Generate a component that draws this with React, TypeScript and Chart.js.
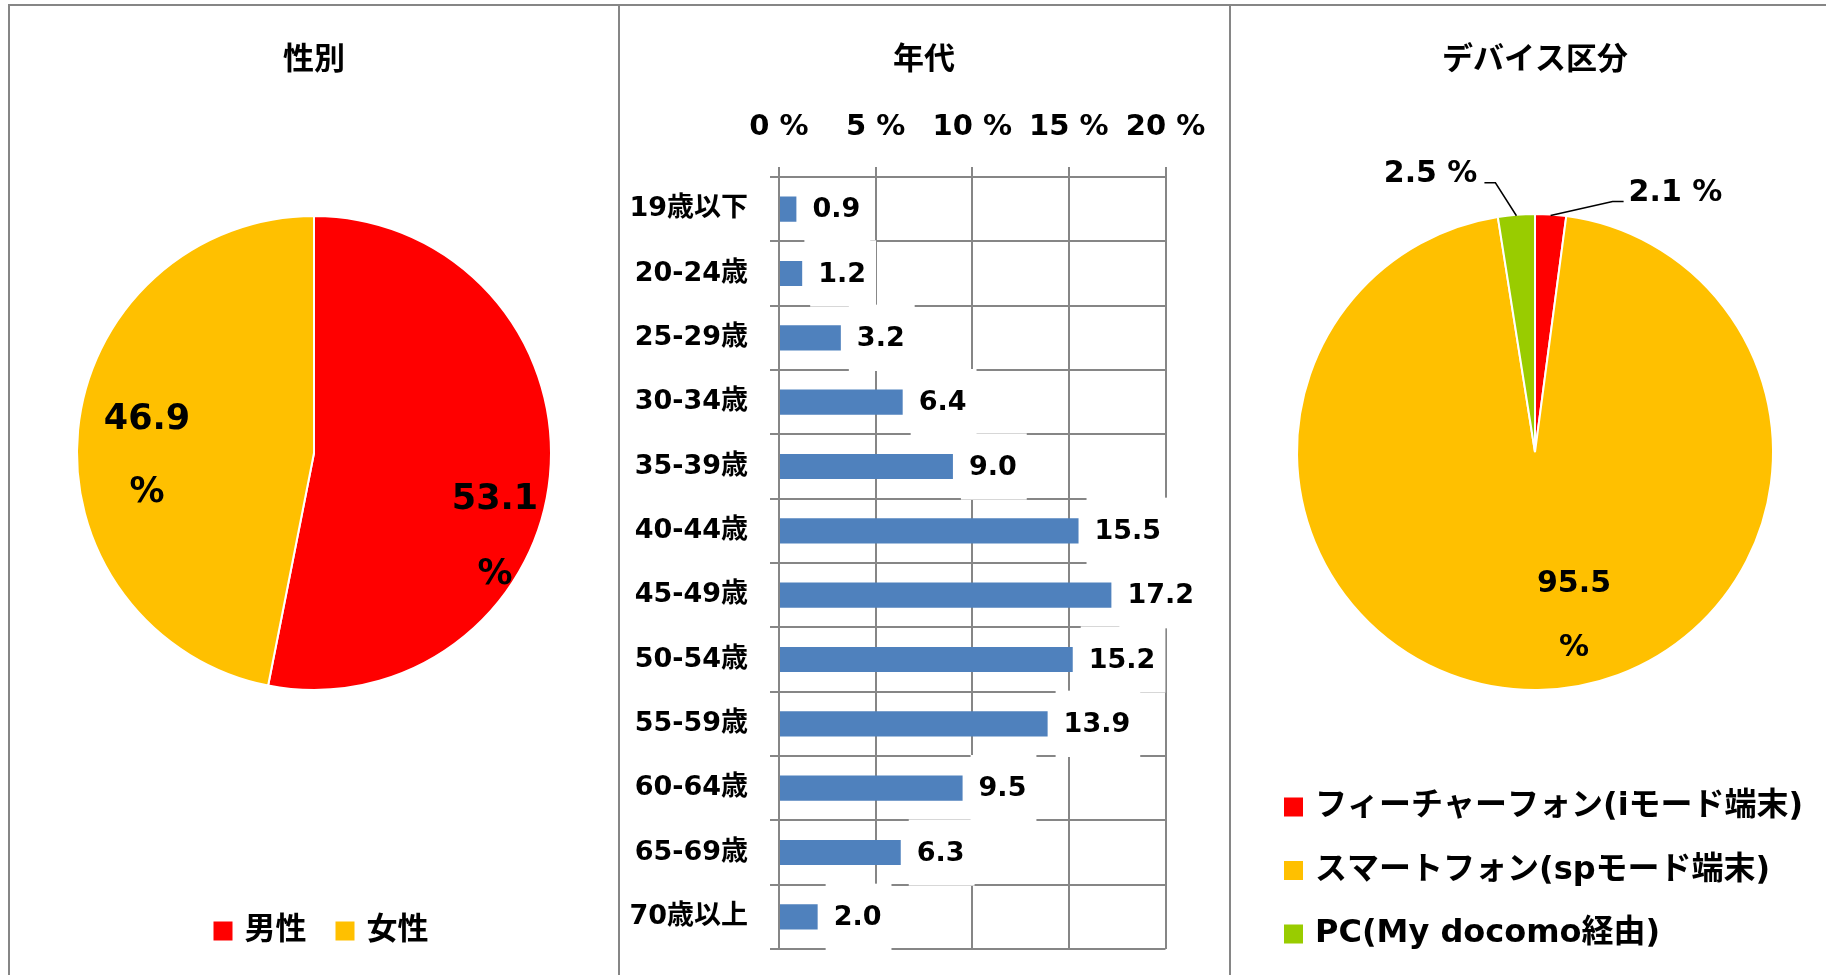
import React, { useEffect, useRef } from 'react';
import { Chart, registerables } from 'chart.js';

Chart.register(...registerables);

const FONT = '"DejaVu Sans", "Noto Sans CJK JP", sans-serif';
const GRID = '#868686';

// ---- data ----
const genderTitle = '性別';
const genderLabels = ['男性', '女性'];
const genderValues = [53.1, 46.9];
const genderColors = ['#FF0000', '#FFC000'];

const ageTitle = '年代';
const ageLabels = ['19歳以下', '20-24歳', '25-29歳', '30-34歳', '35-39歳', '40-44歳', '45-49歳', '50-54歳', '55-59歳', '60-64歳', '65-69歳', '70歳以上'];
const ageValues = [0.9, 1.2, 3.2, 6.4, 9.0, 15.5, 17.2, 15.2, 13.9, 9.5, 6.3, 2.0];
const ageTicks = [0, 5, 10, 15, 20];
const ageColor = '#4F81BD';

const deviceTitle = 'デバイス区分';
const deviceLabels = ['フィーチャーフォン(iモード端末)', 'スマートフォン(spモード端末)', 'PC(My docomo経由)'];
const deviceValues = [2.1, 95.5, 2.5];
const deviceColors = ['#FF0000', '#FFC000', '#99CC00'];

// ---- label styling (offsets relative to pie centre) ----
const genderLabelPos = [
  [181, 47, 122],
  [-167, -33, 40],
];
const deviceInnerPos: Record<number, number[]> = { 1: [39, 132, 196] };
const deviceLeader: Record<number, { dx: number; dy: number; tail: number }> = {
  0: { dx: 62, dy: -14, tail: 11 },
  2: { dx: -21, dy: -33, tail: -11 },
};

function txt(ctx: CanvasRenderingContext2D, s: string, x: number, y: number, size: number, align: CanvasTextAlign = 'center', base: CanvasTextBaseline = 'middle') {
  ctx.save();
  ctx.font = `bold ${size}px ${FONT}`;
  ctx.fillStyle = '#000';
  ctx.textAlign = align;
  ctx.textBaseline = base;
  ctx.fillText(s, x, y);
  ctx.restore();
}

export default function App() {
  const c1 = useRef<HTMLCanvasElement>(null);
  const c2 = useRef<HTMLCanvasElement>(null);
  const c3 = useRef<HTMLCanvasElement>(null);

  useEffect(() => {
    Chart.defaults.font.family = FONT;
    const charts: Chart[] = [];

    // ---------- Panel 1: gender pie ----------
    charts.push(
      new Chart(c1.current as HTMLCanvasElement, {
        type: 'pie',
        data: {
          labels: genderLabels,
          datasets: [{ data: genderValues, backgroundColor: genderColors, borderColor: '#fff', borderWidth: 2, radius: 237 } as any],
        },
        options: {
          responsive: false,
          animation: false,
          events: [],
          layout: { padding: { left: 59, right: 57, top: 208, bottom: 277 } },
          plugins: { legend: { display: false }, tooltip: { enabled: false }, title: { display: false } },
        } as any,
        plugins: [
          {
            id: 'genderDeco',
            afterDraw(chart: any) {
              const ctx = chart.ctx as CanvasRenderingContext2D;
              const meta = chart.getDatasetMeta(0);
              const cx = meta.data[0].x;
              const cy = meta.data[0].y;
              txt(ctx, genderTitle, cx, 61, 31);
              meta.data.forEach((_: any, i: number) => {
                const p = genderLabelPos[i];
                txt(ctx, genderValues[i].toFixed(1), cx + p[0], cy + p[1], 35);
                txt(ctx, '%', cx + p[0], cy + p[2], 35);
              });
              // legend
              ctx.save();
              ctx.font = `bold 31px ${FONT}`;
              const sq = 19, g1 = 12, g2 = 29;
              const widths = genderLabels.map((l) => ctx.measureText(l).width);
              const total = widths.reduce((s, w) => s + sq + g1 + w, 0) + g2 * (widths.length - 1);
              let x = cx + 7 - total / 2;
              const ly = 931;
              genderLabels.forEach((l, i) => {
                ctx.fillStyle = genderColors[i];
                ctx.fillRect(x, ly - sq / 2, sq, sq);
                x += sq + g1;
                ctx.fillStyle = '#000';
                ctx.textAlign = 'left';
                ctx.textBaseline = 'middle';
                ctx.fillText(l, x, ly);
                x += widths[i] + g2;
              });
              ctx.restore();
            },
          },
        ],
      })
    );

    // ---------- Panel 2: age bars ----------
    charts.push(
      new Chart(c2.current as HTMLCanvasElement, {
        type: 'bar',
        data: {
          labels: ageLabels,
          datasets: [{ data: ageValues, backgroundColor: ageColor, barPercentage: 0.39, categoryPercentage: 1 }],
        },
        options: {
          indexAxis: 'y',
          responsive: false,
          animation: false,
          events: [],
          layout: { padding: { left: 0, top: 0, right: 62.5, bottom: 26 } },
          scales: {
            x: {
              position: 'top',
              min: 0,
              max: 20,
              afterBuildTicks: (s: any) => {
                s.ticks = ageTicks.map((v) => ({ value: v }));
              },
              afterFit: (s: any) => {
                s.height = 177;
              },
              ticks: {
                callback: (v: any) => `${v} %`,
                color: '#000',
                font: { size: 29, weight: 'bold' },
                padding: 22,
                maxRotation: 0,
              },
              grid: { color: GRID, lineWidth: 2, tickLength: 10 },
              border: { color: GRID, width: 2 },
            },
            y: {
              afterFit: (s: any) => {
                s.width = 159;
                s.paddingTop = 0;
                s.paddingBottom = 0;
              },
              ticks: { color: '#000', font: { size: 27, weight: 'bold' }, padding: 22 },
              grid: { color: GRID, lineWidth: 2, tickLength: 9, offset: true },
              border: { color: GRID, width: 2 },
            },
          },
          plugins: { legend: { display: false }, tooltip: { enabled: false }, title: { display: false } },
        } as any,
        plugins: [
          {
            id: 'ageDeco',
            afterDatasetsDraw(chart: any) {
              const ctx = chart.ctx as CanvasRenderingContext2D;
              const ys = chart.scales.y;
              const rowH = (ys.bottom - ys.top) / ageLabels.length;
              const meta = chart.getDatasetMeta(0);
              ctx.save();
              ctx.font = `bold 27px ${FONT}`;
              meta.data.forEach((bar: any, i: number) => {
                const s = ageValues[i].toFixed(1);
                const w = ctx.measureText(s).width;
                const top = Math.max(bar.y - rowH / 2 - 1, chart.chartArea.top + 1);
                ctx.fillStyle = '#fff';
                ctx.fillRect(bar.x + 8, top, w + 18, bar.y + rowH / 2 + 1 - top);
                ctx.fillStyle = '#000';
                ctx.textAlign = 'left';
                ctx.textBaseline = 'middle';
                ctx.fillText(s, bar.x + 16, bar.y + 1);
              });
              ctx.restore();
            },
            afterDraw(chart: any) {
              txt(chart.ctx, ageTitle, chart.width / 2, 61, 31);
            },
          },
        ],
      })
    );

    // ---------- Panel 3: device pie ----------
    charts.push(
      new Chart(c3.current as HTMLCanvasElement, {
        type: 'pie',
        data: {
          labels: deviceLabels,
          datasets: [{ data: deviceValues, backgroundColor: deviceColors, borderColor: '#fff', borderWidth: 2, radius: 238 } as any],
        },
        options: {
          responsive: false,
          animation: false,
          events: [],
          layout: { padding: { left: 58, right: 46, top: 207, bottom: 278 } },
          plugins: { legend: { display: false }, tooltip: { enabled: false }, title: { display: false } },
        } as any,
        plugins: [
          {
            id: 'deviceDeco',
            afterDraw(chart: any) {
              const ctx = chart.ctx as CanvasRenderingContext2D;
              const meta = chart.getDatasetMeta(0);
              const cx = meta.data[0].x;
              const cy = meta.data[0].y;
              txt(ctx, deviceTitle, cx, 61, 31);
              meta.data.forEach((arc: any, i: number) => {
                const label = deviceValues[i].toFixed(1);
                if (deviceInnerPos[i]) {
                  const p = deviceInnerPos[i];
                  txt(ctx, label, cx + p[0], cy + p[1], 30);
                  txt(ctx, '%', cx + p[0], cy + p[2], 30);
                } else if (deviceLeader[i]) {
                  const L = deviceLeader[i];
                  const mid = (arc.startAngle + arc.endAngle) / 2;
                  const R = arc.outerRadius - 1;
                  const ex = cx + Math.cos(mid) * R;
                  const ey = cy + Math.sin(mid) * R;
                  const bx = ex + L.dx;
                  const by = ey + L.dy;
                  const tx = bx + L.tail;
                  ctx.save();
                  ctx.strokeStyle = '#000';
                  ctx.lineWidth = 1.5;
                  ctx.beginPath();
                  ctx.moveTo(ex, ey);
                  ctx.lineTo(bx, by);
                  ctx.lineTo(tx, by);
                  ctx.stroke();
                  ctx.restore();
                  if (L.tail > 0) txt(ctx, `${label} %`, tx + 5, by - 1, 30, 'left', 'alphabetic');
                  else txt(ctx, `${label} %`, tx - 7, by - 1, 30, 'right', 'alphabetic');
                }
              });
              // legend
              ctx.save();
              ctx.font = `bold 32px ${FONT}`;
              const sq = 19;
              deviceLabels.forEach((l, i) => {
                const ly = 807 + i * 63.5;
                ctx.fillStyle = deviceColors[i];
                ctx.fillRect(52, ly - sq / 2, sq, sq);
                ctx.fillStyle = '#000';
                ctx.textAlign = 'left';
                ctx.textBaseline = 'middle';
                ctx.fillText(l, 83, ly);
              });
              ctx.restore();
            },
          },
        ],
      })
    );

    return () => charts.forEach((c) => c.destroy());
  }, []);

  const line = (l: number, t: number, w: number, h: number) => (
    <div style={{ position: 'absolute', left: l, top: t, width: w, height: h, background: GRID }} />
  );

  return (
    <div style={{ position: 'fixed', left: 0, top: 0, width: 1826, height: 975, background: '#fff', overflow: 'hidden' }}>
      <canvas ref={c1} width={606} height={975} style={{ position: 'absolute', left: 10, top: 0 }} />
      <canvas ref={c2} width={608} height={975} style={{ position: 'absolute', left: 620, top: 0 }} />
      <canvas ref={c3} width={594} height={975} style={{ position: 'absolute', left: 1232, top: 0 }} />
      {line(8, 4, 1818, 2)}
      {line(8, 4, 2, 971)}
      {line(618, 4, 2, 971)}
      {line(1229, 4, 2, 971)}
    </div>
  );
}
